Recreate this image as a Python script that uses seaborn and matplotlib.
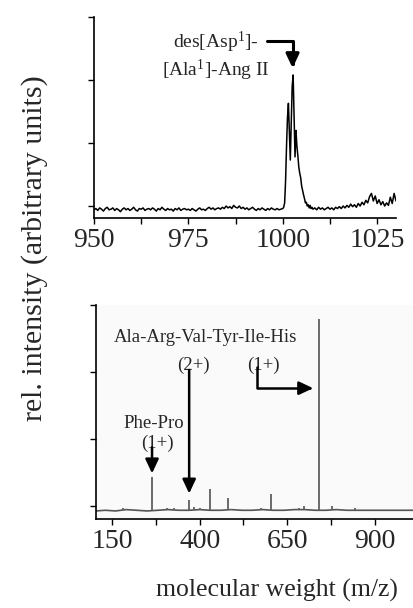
import numpy as np
import pandas as pd
import matplotlib
matplotlib.use("Agg")
import matplotlib.pyplot as plt
import seaborn as sns

# ---------------- data ----------------
# top panel: des[Asp1]-[Ala1]-Ang II region
top_mz_base = np.arange(950.0, 1000.01, 0.5)
top_int_base = [
    -0.06, -0.04, -0.07, -0.03, -0.05, -0.08, -0.04, -0.02, -0.06, -0.05,
    -0.03, -0.07, -0.04, -0.06, -0.09, -0.05, -0.03, -0.06, -0.04, -0.07,
    -0.05, -0.02, -0.06, -0.08, -0.04, -0.05, -0.03, -0.07, -0.05, -0.04,
    -0.06, -0.03, -0.05, -0.08, -0.04, -0.06, -0.02, -0.05, -0.07, -0.04,
    -0.06, -0.05, -0.08, -0.04, -0.06, -0.03, -0.07, -0.05, -0.04, -0.06,
    -0.05, -0.07, -0.04, -0.06, -0.08, -0.05, -0.03, -0.06, -0.05, -0.07,
    -0.04, -0.02, -0.05, -0.03, -0.06, -0.04, -0.03, -0.05, -0.02, -0.04,
    0.00, -0.03, -0.01, -0.04, 0.01, -0.02, -0.03, 0.00, -0.04, -0.02,
    -0.05, -0.03, -0.06, -0.04, -0.02, -0.05, -0.07, -0.04, -0.06, -0.03,
    -0.05, -0.07, -0.04, -0.06, -0.03, -0.05, -0.06, -0.04, -0.06, -0.05,
    -0.04,
]
top_mz_peak = np.arange(1000.25, 1008.01, 0.25)
top_int_peak = [
    -0.02, 0.05, 0.40, 0.95, 1.40, 1.63, 1.20, 0.73, 1.30, 1.90,
    2.08, 1.40, 0.78, 1.20, 0.95, 0.80, 0.62, 0.52, 0.45, 0.32,
    0.25, 0.18, 0.12, 0.05, 0.06, 0.00, 0.02, -0.03, 0.01, -0.04,
    -0.02, -0.05,
]
top_mz_tail = np.arange(1008.5, 1030.01, 0.5)
top_int_tail = [
    -0.03, -0.06, -0.02, -0.05, -0.03, -0.06, -0.04, -0.02, -0.05, -0.03,
    -0.06, -0.02, -0.04, -0.01, -0.04, 0.00, -0.03, 0.01, -0.02, 0.03,
    -0.01, 0.02, -0.02, 0.04, 0.00, 0.06, 0.02, 0.09, 0.05, 0.15,
    0.20, 0.08, 0.16, 0.04, 0.10, 0.02, 0.07, 0.00, 0.05, 0.01,
    0.14, 0.04, 0.20, 0.08,
]

# bottom panel: digest spectrum
bot_base_mz = [104, 130, 160, 190, 220, 250, 280, 310, 340, 370, 400, 430, 460,
               490, 520, 550, 580, 610, 640, 670, 700, 730, 760, 790, 820, 850,
               880, 910, 940, 970, 1000, 1012]
bot_base_int = [-0.07, -0.06, -0.07, -0.05, -0.06, -0.07, -0.06, -0.05, -0.06,
                -0.06, -0.05, -0.06, -0.06, -0.05, -0.06, -0.06, -0.05, -0.06,
                -0.06, -0.05, -0.05, -0.06, -0.06, -0.05, -0.06, -0.06, -0.06,
                -0.06, -0.06, -0.06, -0.06, -0.06]
peak_mz = [181, 264, 307, 327, 370, 384, 401, 430, 481, 490, 575, 604, 684, 698, 741, 778, 843]
peak_int = [-0.03, 0.43, -0.02, -0.03, 0.09, -0.01, -0.03, 0.25, 0.13, -0.04,
            -0.02, 0.19, -0.03, 0.00, 2.79, 0.01, -0.03]

top_xticks = [950, 975, 1000, 1025]
top_xminor = [962.5, 987.5, 1012.5]
bot_xticks = [150, 400, 650, 900]
bot_xminor = [275, 525, 775]
yticks = [0, 1, 2, 3]

# ---------------- style ----------------
sns.set_theme(style="white")
plt.rcParams["font.family"] = ["Liberation Serif", "DejaVu Serif"]
plt.rcParams["mathtext.fontset"] = "custom"
plt.rcParams["mathtext.rm"] = "Liberation Serif"
plt.rcParams["mathtext.it"] = "Liberation Serif:italic"
plt.rcParams["mathtext.bf"] = "Liberation Serif:bold"

W, H = 414, 608
fig = plt.figure(figsize=(W / 100, H / 100), dpi=100)
ax1 = fig.add_axes([94 / W, 1 - 218 / H, 302 / W, 201 / H])
ax2 = fig.add_axes([96 / W, 1 - 519 / H, 318 / W, 214 / H])
ax2.set_facecolor("#fafafa")

top_df = pd.DataFrame({
    "mz": np.concatenate([top_mz_base, top_mz_peak, top_mz_tail]),
    "intensity": top_int_base + top_int_peak + top_int_tail,
})
sns.lineplot(data=top_df, x="mz", y="intensity", ax=ax1, color="black",
             lw=1.1, estimator=None, sort=False)

base_df = pd.DataFrame({"mz": bot_base_mz, "intensity": bot_base_int})
sns.lineplot(data=base_df, x="mz", y="intensity", ax=ax2, color="#555555",
             lw=1.2, estimator=None, sort=False)
ax2.vlines(peak_mz, -0.06, peak_int, color="#606060", lw=1.3)

for ax in (ax1, ax2):
    for s in ("top", "right"):
        ax.spines[s].set_visible(False)
    for s in ("left", "bottom"):
        ax.spines[s].set_color("black")
        ax.spines[s].set_linewidth(1.2)
    ax.set_yticks(yticks)
    ax.set_yticklabels([])
    ax.set_ylim(-0.19, 3.0)
    ax.tick_params(axis="both", which="both", direction="out", length=4.5,
                   width=1.0, color="black", labelsize=20, pad=3,
                   left=True, bottom=True)
    ax.set_xlabel("")
    ax.set_ylabel("")

ax1.set_xlim(950, 1030)
ax1.set_xticks(top_xticks)
ax1.set_xticks(top_xminor, minor=True)
ax1.set_xticklabels([str(t) for t in top_xticks])

ax2.set_xlim(104, 1012)
ax2.set_xticks(bot_xticks)
ax2.set_xticks(bot_xminor, minor=True)
ax2.set_xticklabels([str(t) for t in bot_xticks])

# ---------------- annotations ----------------
ax1.text(982.3, 2.38, "des[Asp$^{\\rm 1}$]-\n[Ala$^{\\rm 1}$]-Ang II", ha="center",
         va="center", fontsize=14, multialignment="center", linespacing=1.15)

def arrow(ax, start, end, conn="arc3", lw=1.8):
    ax.annotate("", xy=end, xytext=start,
                arrowprops=dict(arrowstyle="-|>,head_length=0.85,head_width=0.4",
                                lw=lw, color="black", shrinkA=0, shrinkB=0,
                                mutation_scale=10, connectionstyle=conn))

arrow(ax1, (995.8, 2.62), (1002.6, 2.19), "angle,angleA=0,angleB=90,rad=0", lw=2.2)

ax2.text(418, 2.51, "Ala-Arg-Val-Tyr-Ile-His", ha="center", va="center", fontsize=13.5)
ax2.text(381, 2.10, "(2+)", ha="center", va="center", fontsize=13.5)
ax2.text(581, 2.10, "(1+)", ha="center", va="center", fontsize=13.5)
ax2.text(270, 1.24, "Phe-Pro", ha="center", va="center", fontsize=13.5)
ax2.text(278, 0.94, "(1+)", ha="center", va="center", fontsize=13.5)

arrow(ax2, (370, 2.03), (370, 0.19))
arrow(ax2, (564, 2.07), (724, 1.76), "angle,angleA=90,angleB=0,rad=0")
arrow(ax2, (264, 0.88), (264, 0.49))

fig.text(35 / W, 1 - 248 / H, "rel. intensity (arbitrary units)", rotation=90,
         ha="center", va="center", fontsize=21.5)
fig.text(277 / W, 1 - 590 / H, "molecular weight (m/z)", ha="center",
         va="center", fontsize=18.5)

fig.savefig("out.png", dpi=100)
